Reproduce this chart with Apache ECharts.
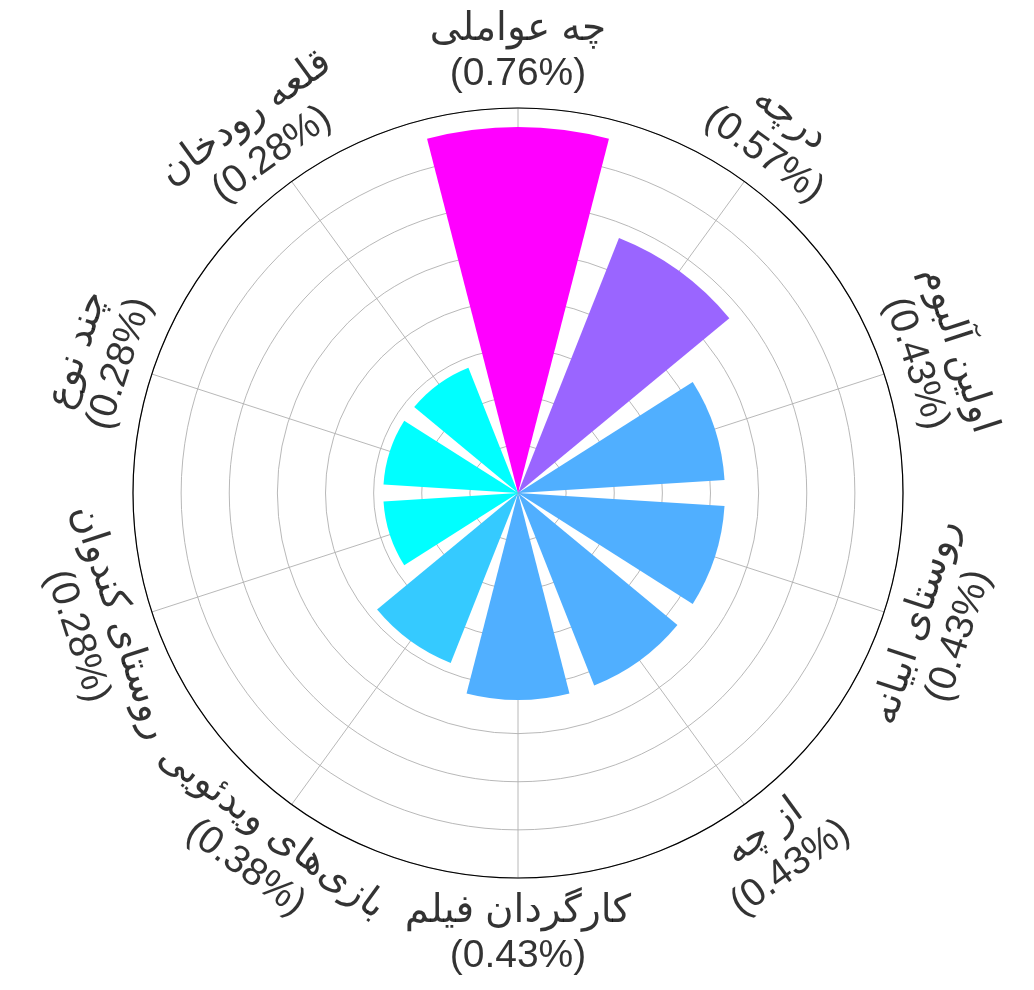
<!DOCTYPE html>
<html>
<head>
<meta charset="utf-8">
<script src="https://cdn.jsdelivr.net/npm/echarts@6/dist/echarts.min.js"></script>
<style>
html,body{margin:0;padding:0;background:#fff;}
#chart{width:1034px;height:990px;}
</style>
</head>
<body>
<div id="chart"></div>
<script>
// ---- data ----
const categories = ['چه عواملی','درچه','اولین آلبوم','روستای ابیانه','از چه','کارگردان فیلم','بازی‌های ویدئویی','روستای کندوان','چند نوع','قلعه رودخان'];
const values = [0.76, 0.57, 0.43, 0.43, 0.43, 0.43, 0.38, 0.28, 0.28, 0.28];

// ---- layout / style ----
const CX = 518, CY = 493, R = 385, LABEL_R = 441;
const n = categories.length;
const step = 360 / n;
const vmin = Math.min(...values), vmax = Math.max(...values);
function cool(v){
  const t = (v - vmin) / (vmax - vmin);
  const r = Math.round(255 * t), g = Math.round(255 * (1 - t));
  return 'rgb(' + r + ',' + g + ',255)';
}
function labelRot(i){
  let a = 90 - step * i;     // math angle of category
  let rot = a - 90;
  while (rot > 90) rot -= 180;
  while (rot < -90) rot += 180;
  return rot;
}
const FONT = '"Liberation Sans", "DejaVu Sans", sans-serif';

const labelData = categories.map((c, i) => ({
  value: [1, c],
  name: c,
  label: { rotate: labelRot(i) }
}));

const chart = echarts.init(document.getElementById('chart'));
chart.setOption({
  backgroundColor: '#fff',
  animation: false,
  polar: [
    { center: [CX, CY], radius: R },
    { center: [CX, CY], radius: R },
    { center: [CX, CY], radius: LABEL_R }
  ],
  angleAxis: [
    { polarIndex: 0, type: 'category', data: categories, startAngle: 90 + step / 2, clockwise: true,
      axisLine: { show: false }, axisTick: { show: false }, axisLabel: { show: false }, splitLine: { show: false } },
    { polarIndex: 1, type: 'value', min: 0, max: 360, interval: step, startAngle: 90, clockwise: true,
      axisLine: { show: true, lineStyle: { color: '#000', width: 1.2 } }, axisTick: { show: false }, axisLabel: { show: false },
      splitLine: { show: true, lineStyle: { color: '#b0b0b0', width: 0.9 } } },
    { polarIndex: 2, type: 'category', data: categories, startAngle: 90 + step / 2, clockwise: true, show: false }
  ],
  radiusAxis: [
    { polarIndex: 0, type: 'value', min: 0, max: 0.8, interval: 0.1,
      axisLine: { show: false }, axisTick: { show: false }, axisLabel: { show: false },
      splitLine: { show: true, lineStyle: { color: '#b0b0b0', width: 0.9 } } },
    { polarIndex: 1, type: 'value', min: 0, max: 0.8, show: false },
    { polarIndex: 2, type: 'value', min: 0, max: 1, show: false }
  ],
  series: [
    {
      type: 'bar', coordinateSystem: 'polar', polarIndex: 0,
      data: values, barCategoryGap: '20%', z: 3,
      itemStyle: { color: p => cool(p.value) }
    },
    {
      type: 'scatter', coordinateSystem: 'polar', polarIndex: 2,
      symbolSize: 0, data: labelData, silent: true,
      itemStyle: { color: '#000' },
      label: {
        show: true, position: 'inside', color: '#000', textBorderWidth: 0,
        fontFamily: FONT, fontSize: 39, lineHeight: 45, align: 'center', verticalAlign: 'middle',
        formatter: p => p.name + '\n(' + values[p.dataIndex].toFixed(2) + '%)'
      }
    }
  ]
});
</script>
</body>
</html>
